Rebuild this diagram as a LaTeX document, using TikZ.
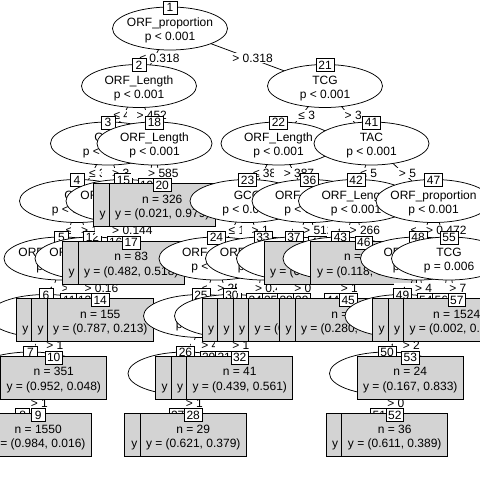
\documentclass[tikz,border=0pt]{standalone}
\usepackage{fontspec}
\setmainfont{Liberation Sans}
\usetikzlibrary{calc,shapes.geometric}
\definecolor{termgray}{HTML}{D3D3D3}
\newcommand\MkIn[3]{%
  \node[ellnode] (n#1) at (c#1) {};
  \node[intext] (n#1v) at ($(c#1)+(0,-6)$) {#2};
  \node[intext] (n#1p) at ($(c#1)+(0,8)$) {#3};
  \node[idbox] (id#1) at ($(c#1)+(0,-21)$) {#1};
}
\newcommand\MkTn[3]{%
  \node[tbox] (n#1) at ($(c#1)+(0,4.15)$) {};
  \node[intext] (n#1n) at ($(c#1)+(0,-2.3)$) {n = #2};
  \node[intext] (n#1y) at ($(c#1)+(0,12.4)$) {y = #3};
  \node[idbox] (id#1) at ($(c#1)+(0,-16)$) {#1};
}
\newcommand\Split[6]{%
  \draw[conn] (c#1) -- (c#2);
  \draw[conn] (c#1) -- (c#3);
  \MkIn{#1}{#4}{#5}
  \node[elab,yshift=-0.8pt] (l#1-#2) at ($(c#1)!0.5!(c#2)$) {\phantom{0} ≤ #6};
  \node[elab,yshift=-0.8pt] (l#1-#3) at ($(c#1)!0.5!(c#3)$) {\phantom{0} > #6};
}
\begin{document}
\begin{tikzpicture}[x=1pt,y=-1pt,
  every node/.style={font=\fontsize{12}{14}\selectfont},
  ellnode/.style={ellipse,draw,fill=white,minimum width=115pt,minimum height=43pt,inner sep=0pt,line width=0.75pt},
  intext/.style={inner sep=0pt,text height=8.6pt,text depth=0pt},
  idbox/.style={rectangle,draw,fill=white,line width=0.75pt,inner xsep=2.2pt,inner ysep=0pt,minimum width=14pt,minimum height=13pt,text height=8.6pt,text depth=0pt},
  tbox/.style={rectangle,draw,fill=termgray,line width=0.75pt,minimum width=106pt,minimum height=43.3pt,inner sep=0pt},
  elab/.style={fill=white,inner xsep=0pt,inner ysep=0pt,minimum height=10.5pt,text height=8.6pt,text depth=0pt},
  conn/.style={draw=black,line width=0.75pt}]
\useasboundingbox (0,0) rectangle (480,480);
\fill[white] (0,0) rectangle (480,480);
\clip (0,0) rectangle (480,480);
\coordinate (c1) at (170,28.5);
\coordinate (c2) at (139,86);
\coordinate (c3) at (108,143.5);
\coordinate (c4) at (77,201);
\coordinate (c5) at (61.5,258.5);
\coordinate (c6) at (46,316);
\coordinate (c7) at (30.5,373.5);
\coordinate (c8) at (22.75,431);
\coordinate (c9) at (38.25,431);
\coordinate (c10) at (53.75,373.5);
\coordinate (c11) at (69.25,316);
\coordinate (c12) at (92.5,258.5);
\coordinate (c13) at (84.75,316);
\coordinate (c14) at (100.25,316);
\coordinate (c15) at (123.5,201);
\coordinate (c16) at (115.75,258.5);
\coordinate (c17) at (131.25,258.5);
\coordinate (c18) at (154.5,143.5);
\coordinate (c19) at (146.75,201);
\coordinate (c20) at (162.25,201);
\coordinate (c21) at (325,86);
\coordinate (c22) at (278.5,143.5);
\coordinate (c23) at (247.5,201);
\coordinate (c24) at (216.5,258.5);
\coordinate (c25) at (201,316);
\coordinate (c26) at (185.5,373.5);
\coordinate (c27) at (177.75,431);
\coordinate (c28) at (193.25,431);
\coordinate (c29) at (208.75,373.5);
\coordinate (c30) at (232,316);
\coordinate (c31) at (224.25,373.5);
\coordinate (c32) at (239.75,373.5);
\coordinate (c33) at (263,258.5);
\coordinate (c34) at (255.25,316);
\coordinate (c35) at (270.75,316);
\coordinate (c36) at (309.5,201);
\coordinate (c37) at (294,258.5);
\coordinate (c38) at (286.25,316);
\coordinate (c39) at (301.75,316);
\coordinate (c40) at (317.25,258.5);
\coordinate (c41) at (371.5,143.5);
\coordinate (c42) at (356,201);
\coordinate (c43) at (340.5,258.5);
\coordinate (c44) at (332.75,316);
\coordinate (c45) at (348.25,316);
\coordinate (c46) at (363.75,258.5);
\coordinate (c47) at (433.5,201);
\coordinate (c48) at (418,258.5);
\coordinate (c49) at (402.5,316);
\coordinate (c50) at (387,373.5);
\coordinate (c51) at (379.25,431);
\coordinate (c52) at (394.75,431);
\coordinate (c53) at (410.25,373.5);
\coordinate (c54) at (425.75,316);
\coordinate (c55) at (449,258.5);
\coordinate (c56) at (441.25,316);
\coordinate (c57) at (456.75,316);
% ---- left subtree
\Split{1}{2}{21}{ORF\_proportion}{p < 0.001}{0.318}
\Split{2}{3}{18}{ORF\_Length}{p < 0.001}{452}
\Split{3}{4}{15}{GCG}{p < 0.001}{3}
\Split{4}{5}{12}{GCT}{p < 0.001}{1}
\Split{5}{6}{11}{ORF\_proportion}{p < 0.001}{0}
\Split{6}{7}{10}{GCG}{p < 0.001}{1}
\Split{7}{8}{9}{TCG}{p < 0.001}{1}
\MkTn{8}{212}{(0.995, 0.005)}
\MkTn{9}{1550}{(0.984, 0.016)}
\MkTn{10}{351}{(0.952, 0.048)}
\MkTn{11}{97}{(0.887, 0.113)}
\Split{12}{13}{14}{ORF\_proportion}{p < 0.001}{0.16}
\MkTn{13}{64}{(0.641, 0.359)}
\MkTn{14}{155}{(0.787, 0.213)}
\Split{15}{16}{17}{ORF\_proportion}{p < 0.001}{0.144}
\MkTn{16}{48}{(0.854, 0.146)}
\MkTn{17}{83}{(0.482, 0.518)}
\Split{18}{19}{20}{ORF\_Length}{p < 0.001}{585}
\MkTn{19}{112}{(0.143, 0.857)}
\MkTn{20}{326}{(0.021, 0.979)}
% ---- right subtree
\Split{21}{22}{41}{TCG}{p < 0.001}{3}
\Split{22}{23}{36}{ORF\_Length}{p < 0.001}{387}
\Split{23}{24}{33}{GCG}{p < 0.001}{1}
\Split{24}{25}{30}{ORF\_Length}{p < 0.001}{25}
\Split{25}{26}{29}{GCG}{p < 0.001}{4}
\Split{26}{27}{28}{TCG}{p < 0.001}{1}
\MkTn{27}{18}{(0.889, 0.111)}
\MkTn{28}{29}{(0.621, 0.379)}
\MkTn{29}{57}{(0.281, 0.719)}
\Split{30}{31}{32}{GCG}{p < 0.001}{1}
\MkTn{31}{22}{(0.727, 0.273)}
\MkTn{32}{41}{(0.439, 0.561)}
\Split{33}{34}{35}{ORF\_proportion}{p < 0.001}{0.41}
\MkTn{34}{63}{(0.127, 0.873)}
\MkTn{35}{35}{(0.457, 0.543)}
\Split{36}{37}{40}{ORF\_Length}{p < 0.001}{512}
\Split{37}{38}{39}{TAC}{p < 0.001}{0}
\MkTn{38}{74}{(0.068, 0.932)}
\MkTn{39}{31}{(0.323, 0.677)}
\MkTn{40}{208}{(0.024, 0.976)}
\Split{41}{42}{47}{TAC}{p < 0.001}{5}
\Split{42}{43}{46}{ORF\_Length}{p < 0.001}{266}
\Split{43}{44}{45}{GCG}{p < 0.001}{1}
\MkTn{44}{45}{(0.533, 0.467)}
\MkTn{45}{50}{(0.280, 0.720)}
\MkTn{46}{119}{(0.118, 0.882)}
\Split{47}{48}{55}{ORF\_proportion}{p < 0.001}{0.472}
\Split{48}{49}{54}{ORF\_Length}{p < 0.001}{46}
\Split{49}{50}{53}{TCG}{p < 0.001}{2}
\Split{50}{51}{52}{GCG}{p < 0.001}{0}
\MkTn{51}{27}{(0.926, 0.074)}
\MkTn{52}{36}{(0.611, 0.389)}
\MkTn{53}{24}{(0.167, 0.833)}
\MkTn{54}{88}{(0.034, 0.966)}
\Split{55}{56}{57}{TCG}{p = 0.006}{7}
\MkTn{56}{43}{(0.093, 0.907)}
\MkTn{57}{1524}{(0.002, 0.998)}
\end{tikzpicture}
\end{document}
